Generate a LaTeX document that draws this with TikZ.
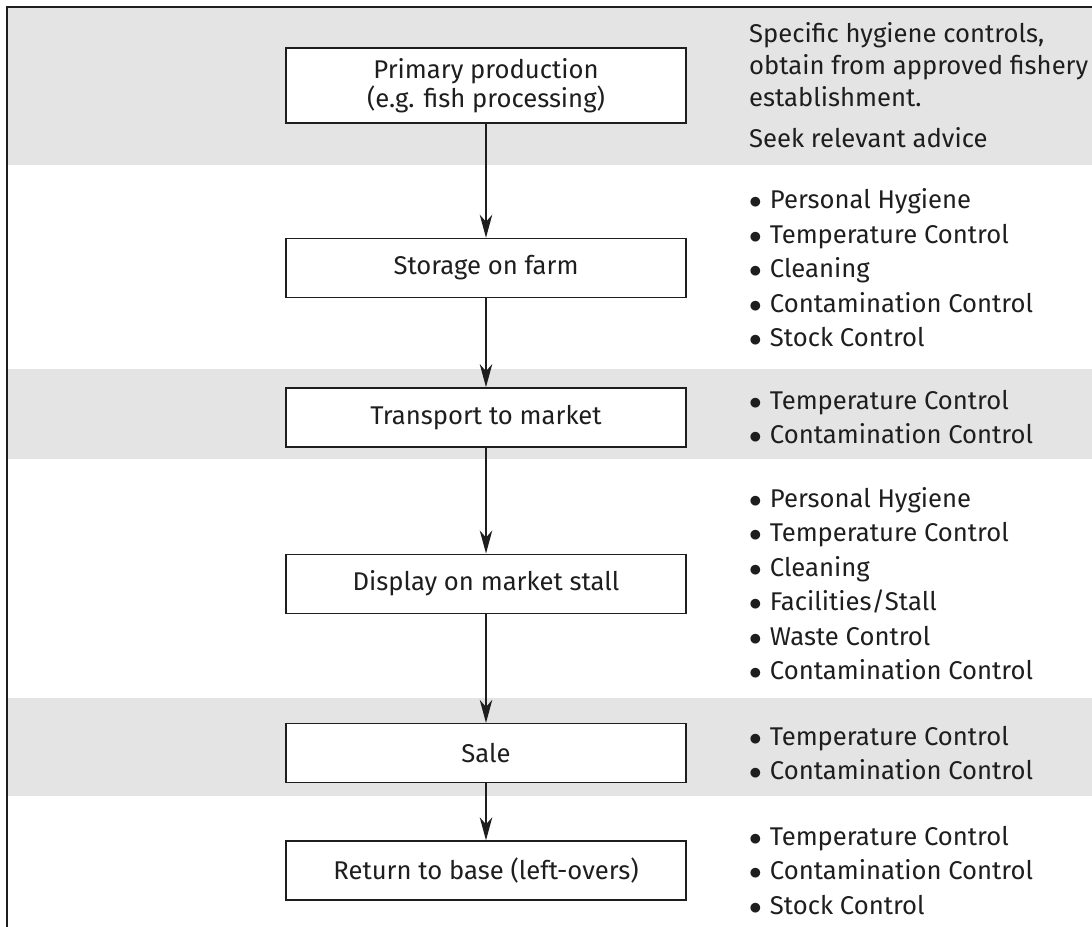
\documentclass[tikz,border=0pt]{standalone}
\usepackage{fontspec}
\setmainfont{Fira Sans}
\usetikzlibrary{arrows.meta, positioning}
\definecolor{bandgray}{RGB}{228,228,228}
\definecolor{inkgray}{RGB}{30,30,30}
\newcommand{\listdot}{$\bullet$\hspace{0.32em}}
\tikzstyle{stage} = [
    rectangle,
    minimum width=8cm,
    minimum height=1.18cm,
    align=center,
    draw=inkgray,
    line width=0.8pt,
    fill=white,
    text=inkgray,
    font=\fontsize{14.6pt}{14.8pt}\selectfont
]
\tikzstyle{notes} = [
    align=left,
    inner sep=0pt,
    text=inkgray,
    font=\fontsize{14.6pt}{19.6pt}\selectfont
]
\tikzstyle{band} = [fill=bandgray]
\tikzstyle{arrow} = [line width=0.8pt, draw=inkgray, -{Stealth[length=4.6mm, width=2.5mm, inset=1.4mm]}]

\begin{document}
\begin{tikzpicture}
\useasboundingbox (0,0) rectangle (21.84,-18.54);

% Bands
\path [band] (0.14,-0.14) rectangle (21.84,-3.30);
\path [band] (0.14,-7.38) rectangle (21.84,-9.18);
\path [band] (0.14,-13.96) rectangle (21.84,-15.92);
\draw [line width=0.8pt, inkgray] (21.84,-0.14) -- (0.14,-0.14) -- (0.14,-18.54);

% Stages
\node (primary) [stage, minimum height=1.5cm] at (9.72,-1.71) {Primary production\\(e.g. fish processing)};
\node (storage) [stage, below=2.28cm of primary] {Storage on farm};
\node (transport) [stage, below=1.78cm of storage] {Transport to market};
\node (display) [stage, below=2.12cm of transport] {Display on market stall};
\node (sale) [stage, below=2.18cm of display] {Sale};
\node (return) [stage, below=1.14cm of sale] {Return to base (left-overs)};

% Controls
\node (primarynote) [notes, right=1.24cm of primary, font=\fontsize{14.6pt}{18.2pt}\selectfont] {Specific hygiene controls,\\obtain from approved fishery\\establishment.\\[5pt]Seek relevant advice};
\node (storagenote) [notes, right=1.24cm of storage] {\listdot Personal Hygiene\\\listdot Temperature Control\\\listdot Cleaning\\\listdot Contamination Control\\\listdot Stock Control};
\node (transportnote) [notes, right=1.24cm of transport] {\listdot Temperature Control\\\listdot Contamination Control};
\node (displaynote) [notes, right=1.24cm of display] {\listdot Personal Hygiene\\\listdot Temperature Control\\\listdot Cleaning\\\listdot Facilities/Stall\\\listdot Waste Control\\\listdot Contamination Control};
\node (salenote) [notes, right=1.24cm of sale] {\listdot Temperature Control\\\listdot Contamination Control};
\node (returnnote) [notes, right=1.24cm of return] {\listdot Temperature Control\\\listdot Contamination Control\\\listdot Stock Control};

% Arrows
\draw [arrow] (primary) -- (storage);
\draw [arrow] (storage) -- (transport);
\draw [arrow] (transport) -- (display);
\draw [arrow] (display) -- (sale);
\draw [arrow] (sale) -- (return);

\end{tikzpicture}
\end{document}
